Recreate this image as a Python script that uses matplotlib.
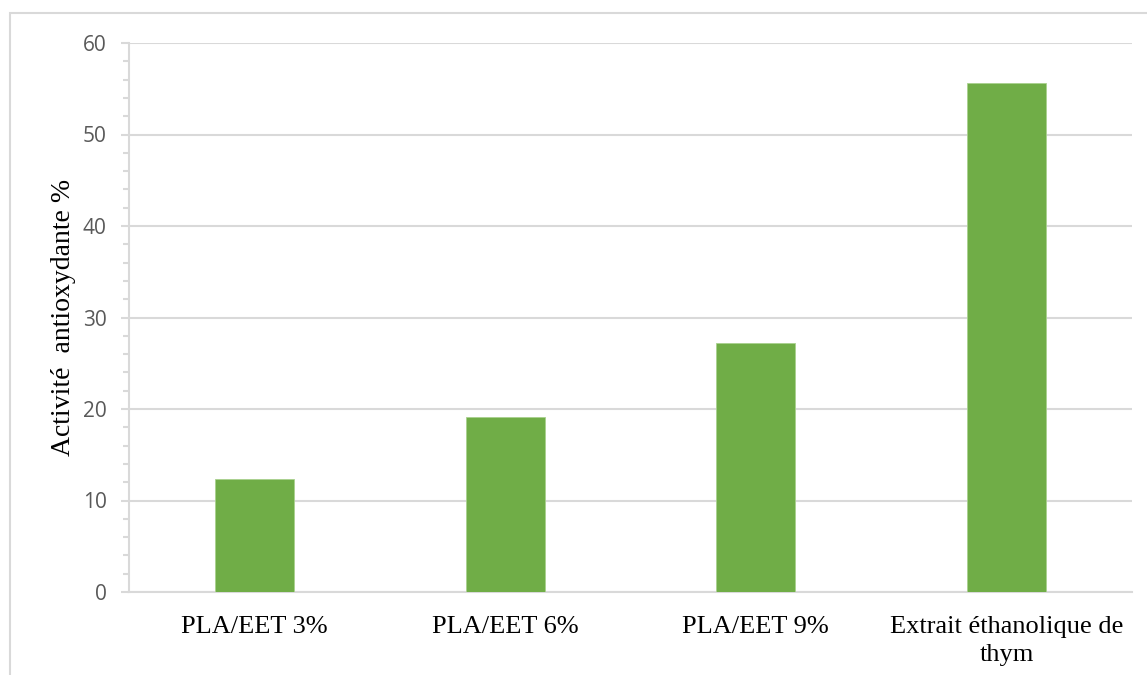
import numpy as np
import matplotlib.pyplot as plt
from matplotlib.patches import Rectangle
from matplotlib.ticker import MultipleLocator

# Antioxidant activity per sample
categories = ["PLA/EET 3%", "PLA/EET 6%", "PLA/EET 9%", "Extrait éthanolique de\nthym"]
activity = [12.35, 19.1, 27.2, 55.6]

W, H = 1147, 675
grid_color = "#D9D9D9"
bar_color = "#70AD47"

fig = plt.figure(figsize=(W / 100, H / 100), dpi=100)
ax = fig.add_axes([129 / W, (H - 592) / H, (1132 - 129) / W, (592 - 43) / H])

x = np.arange(len(categories))
ax.bar(x, activity, width=0.315, color=bar_color, edgecolor="#A9D18E",
       linewidth=0.6, zorder=3)

ax.set_xlim(-0.5, len(categories) - 0.5)
ax.set_ylim(0, 60)
ax.yaxis.set_major_locator(MultipleLocator(10))
ax.yaxis.set_minor_locator(MultipleLocator(2))
ax.grid(axis="y", color=grid_color, linewidth=1.5, zorder=0)

for side in ["top", "right"]:
    ax.spines[side].set_visible(False)
for side in ["left", "bottom"]:
    ax.spines[side].set_color(grid_color)
    ax.spines[side].set_linewidth(1.5)

ax.tick_params(axis="y", which="major", length=6, width=1.5, color=grid_color,
               labelsize=15, labelcolor="#595959", pad=10)
ax.tick_params(axis="y", which="minor", length=4.5, width=1.5, color=grid_color)
for lbl in ax.get_yticklabels():
    lbl.set_family("Open Sans")

ax.set_xticks(x)
ax.set_xticklabels(categories, family="Liberation Serif", fontsize=19,
                   color="black", linespacing=1.4)
ax.tick_params(axis="x", length=0, pad=17)

ax.set_ylabel("Activité  antioxydante %", family="Liberation Serif",
              fontsize=20, color="black", labelpad=5)

# Outer chart frame running off the right and bottom edges
fig.patches.append(Rectangle((10 / W, -0.1), 2, (H - 13) / H + 0.1,
                             transform=fig.transFigure, fill=False,
                             edgecolor=grid_color, linewidth=1.5))

fig.savefig("out.png", dpi=100)
